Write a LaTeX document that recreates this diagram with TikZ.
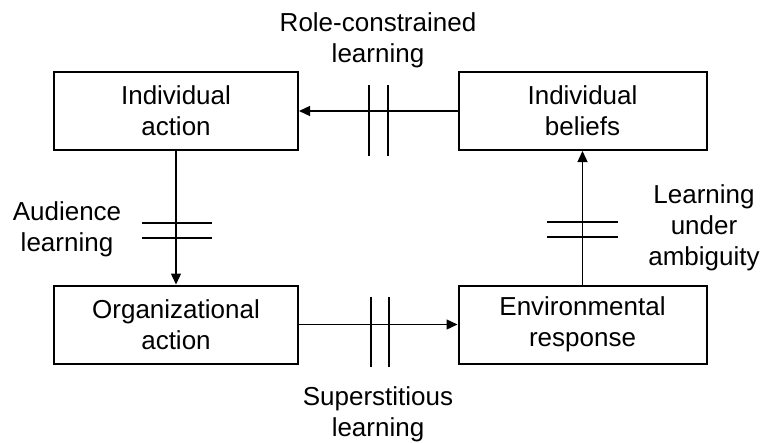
\documentclass[tikz,border=0pt]{standalone}
\usepackage{fontspec}
\setmainfont{Liberation Sans}
\usetikzlibrary{
  arrows.meta,
  calc,
  positioning
}
\tikzset{
  stage/.style={draw, line width=2pt, minimum height=78pt, inner sep=0pt,
    align=center, font=\fontsize{26}{31}\selectfont},
  lbl/.style={inner sep=0pt, align=center, font=\fontsize{26}{31}\selectfont},
  flow/.style={line width=1.3pt, -{Triangle[length=11pt,width=10pt]}},
  gap/.style={line width=1.2pt}
}

\begin{document}
\begin{tikzpicture}[x=1pt,y=-1pt]
  \useasboundingbox (0,0) rectangle (762,442);
  \node[stage, minimum width=244pt] (indact)  at (176,111)    {Individual\\action};
  \node[stage, minimum width=248pt] (indbel)  at (582.5,111)  {Individual\\beliefs};
  \node[stage, minimum width=244pt] (orgact)  at (176,324.5)  {Organizational\\action};
  \node[stage, minimum width=248pt] (envresp) at (582.5,324.5) {Environmental\\response};
  \draw[flow] (indbel) -- (indact);
  \draw[flow] (indact) -- (orgact);
  \draw[flow] (orgact) -- (envresp);
  \draw[flow] (envresp) -- (indbel);
  % broken links
  \foreach \x in {369,388} \draw[gap] (\x,85) -- (\x,156);
  \foreach \x in {371,389} \draw[gap] (\x,297) -- (\x,367);
  \foreach \y in {223,238} \draw[gap] (142,\y) -- (212,\y);
  \foreach \y in {222,237} \draw[gap] (547,\y) -- (618,\y);
  \node[lbl] (rolelbl) at (378,40)  {Role-constrained\\learning};
  \node[lbl] (audlbl)  at (67,229)  {Audience\\learning};
  \node[lbl] (amblbl)  at (704,228) {Learning\\under\\ambiguity};
  \node[lbl] (suplbl)  at (378,414) {Superstitious\\learning};
\end{tikzpicture}
\end{document}
